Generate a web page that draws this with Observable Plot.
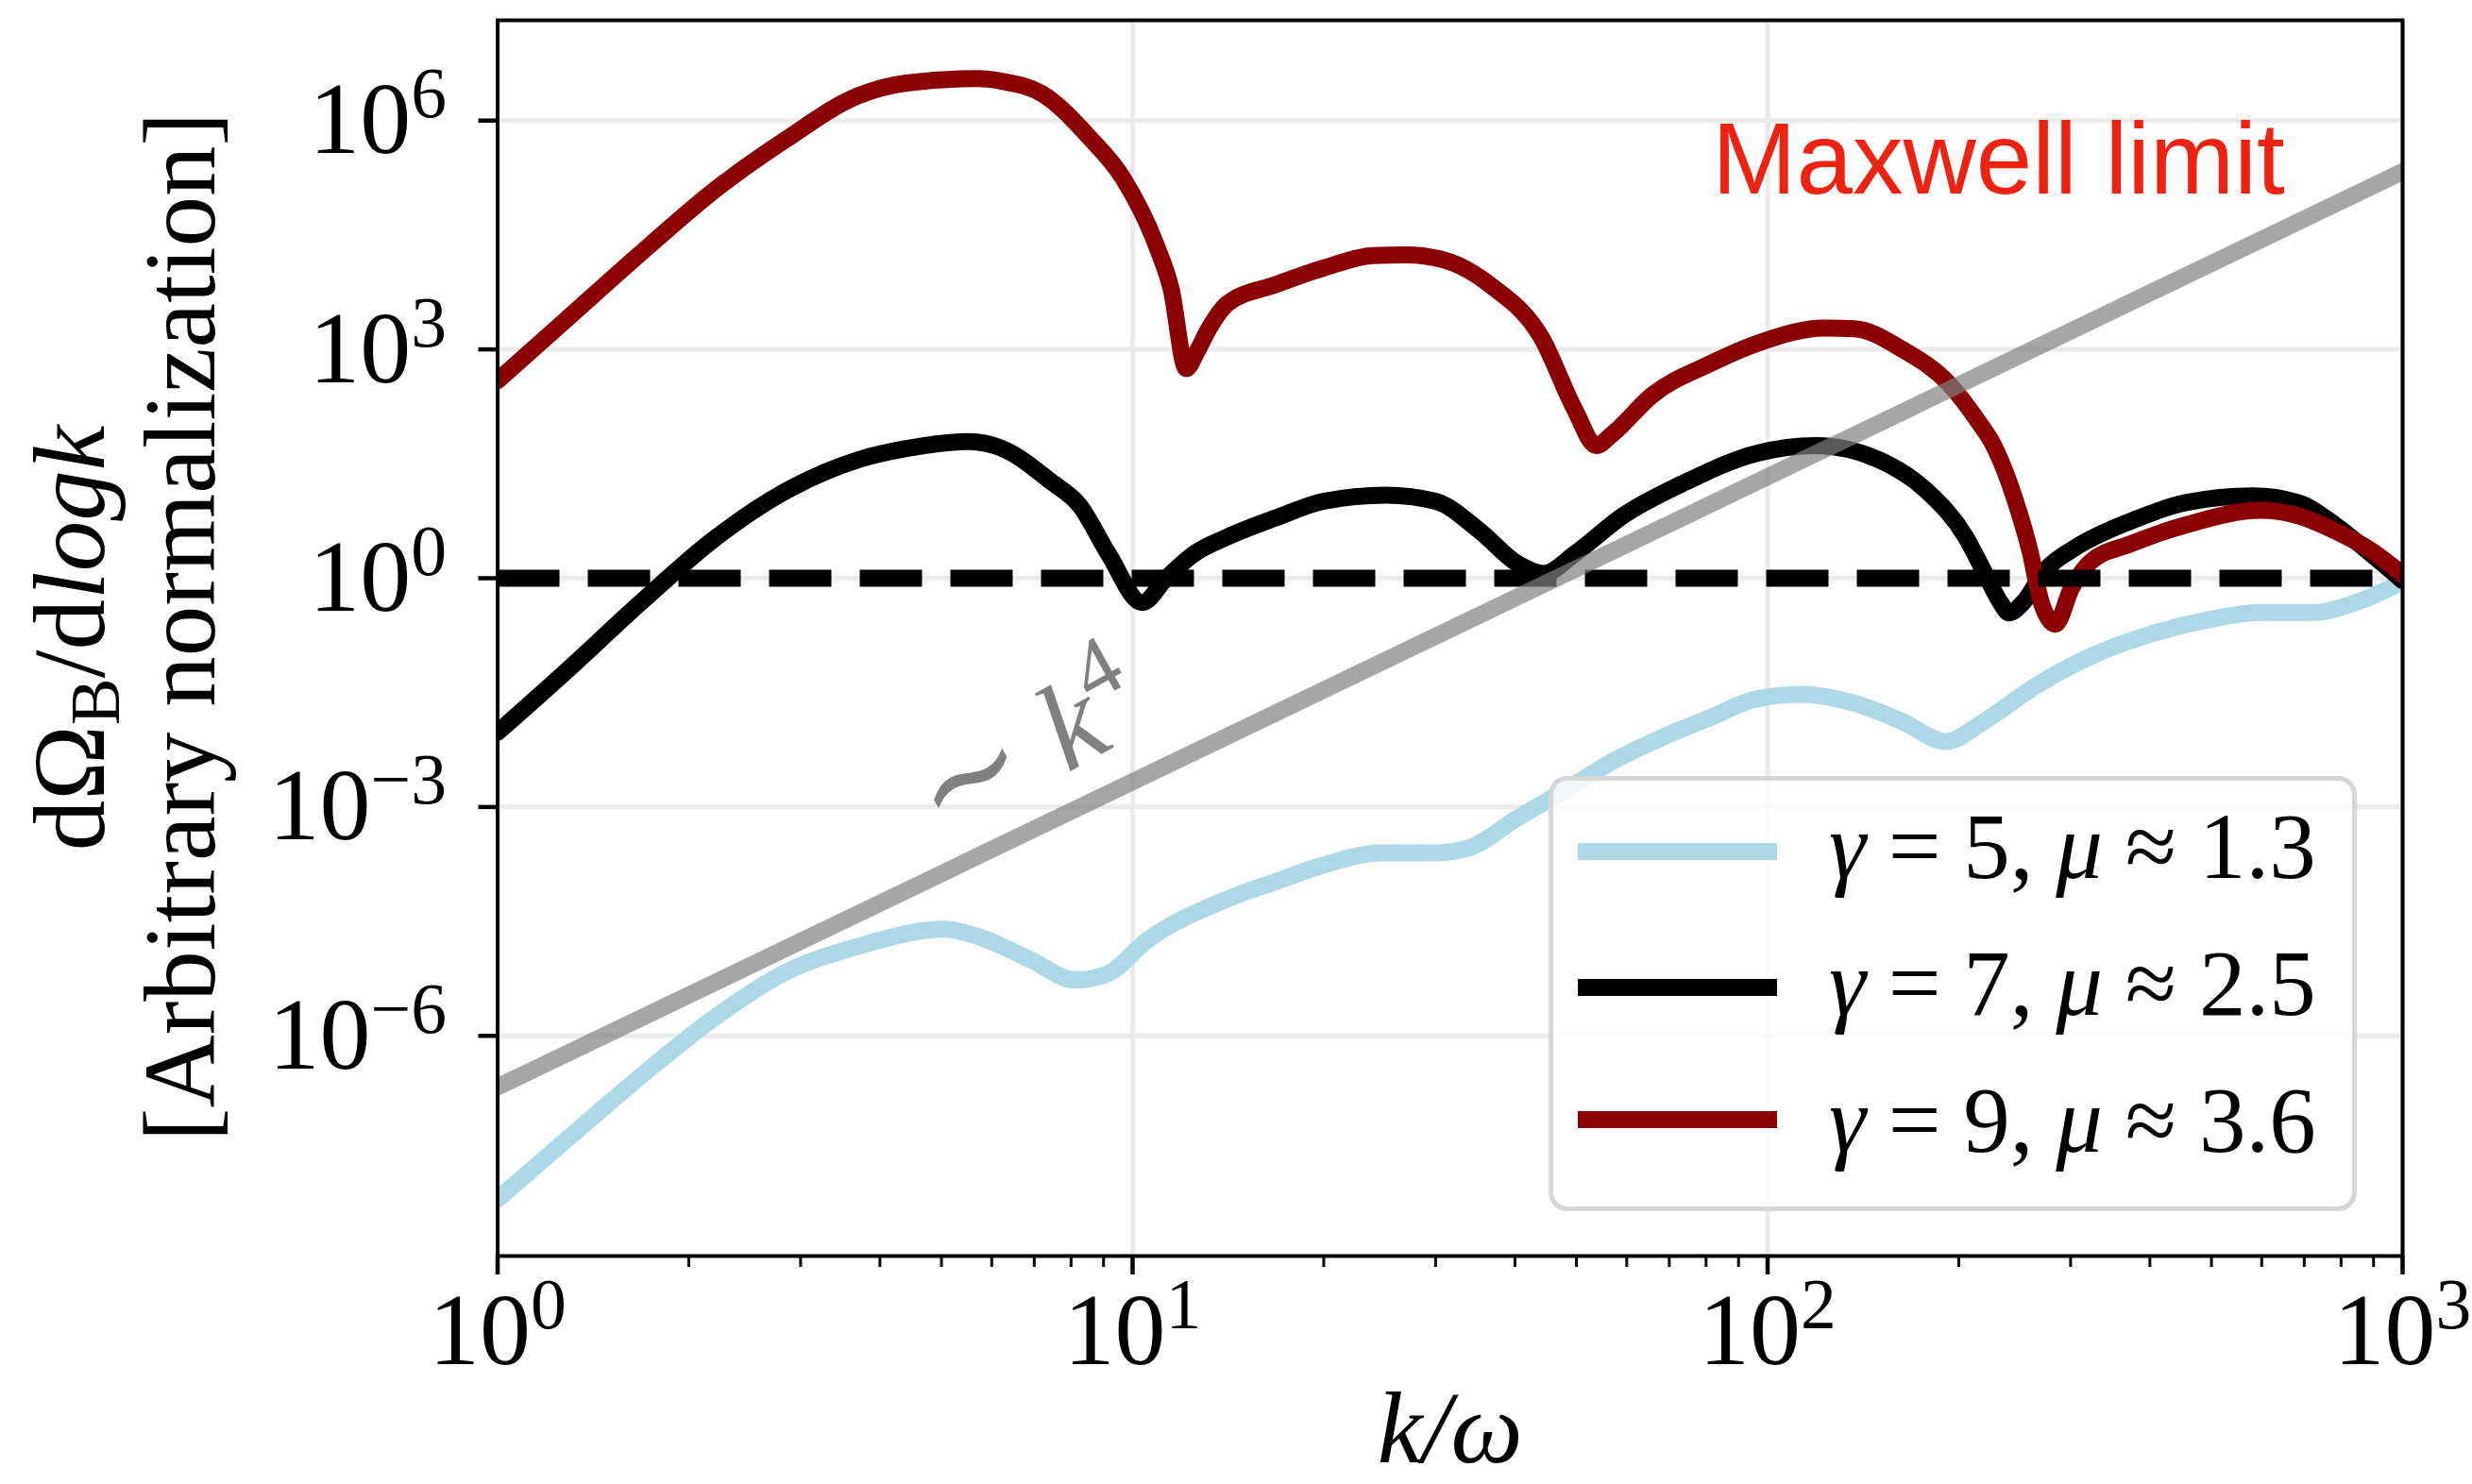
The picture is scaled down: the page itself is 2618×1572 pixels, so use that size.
<!DOCTYPE html>
<html>
<head>
<meta charset="utf-8">
<script src="https://cdn.jsdelivr.net/npm/d3@7"></script>
<script src="https://cdn.jsdelivr.net/npm/@observablehq/plot@0.6"></script>
<style>
  html, body { margin: 0; padding: 0; background: #fff; }
  #wrap { position: relative; width: 2618px; height: 1572px; overflow: hidden; background: #fff; }
  #wrap svg { display: block; }
  #legend { position: absolute; left: 1640px; top: 822px; width: 856px; height: 461px; box-sizing: border-box;
            border: 5px solid #d6d6d6; border-radius: 20px; background: rgba(255,255,255,0.8);
            font-family: 'Liberation Serif', 'Times New Roman', Times, serif; font-size: 99px; color: #000; }
  #legend .sw { position: absolute; left: 26px; width: 211px; height: 18px; }
  #legend .lt { position: absolute; left: 292px; line-height: 99px; white-space: nowrap; word-spacing: -1px; }
</style>
</head>
<body>
<div id="wrap"></div>
<script>
// ---------------- data ----------------
const xMajorTicks = [1, 10, 100, 1000];
const xMinorTicks = [2, 3, 4, 5, 6, 7, 8, 9, 20, 30, 40, 50, 60, 70, 80, 90, 200, 300, 400, 500, 600, 700, 800, 900];
const yMajorTicks = [1e-6, 1e-3, 1, 1e3, 1e6];

// gamma = 5, mu ~ 1.3 (light blue)
const kGamma5 = [1, 1.29, 1.68, 2.19, 2.84, 3.69, 5.06, 5.71, 6.93, 8.11, 9.16, 10.5, 14.1, 16.8, 20.0, 24.7, 29.9, 33.8, 40.3, 48.0, 57.1, 68.1, 81.1, 96.4, 113, 137, 163, 191, 218, 266, 326, 399, 489, 598, 723, 838, 1000];
const vGamma5 = [7.2e-9, 4.5e-8, 2.95e-7, 1.7e-6, 6.8e-6, 1.48e-5, 2.5e-5, 2.0e-5, 9.8e-6, 5.4e-6, 6.6e-6, 1.74e-5, 6.2e-5, 1.05e-4, 1.74e-4, 2.5e-4, 2.5e-4, 2.9e-4, 7.1e-4, 1.66e-3, 4.0e-3, 8.1e-3, 0.0148, 0.0263, 0.030, 0.0229, 0.0132, 7.2e-3, 0.0129, 0.040, 0.098, 0.182, 0.28, 0.355, 0.355, 0.47, 0.9];

// gamma = 7, mu ~ 2.5 (black)
const kGamma7 = [1, 1.29, 1.68, 2.19, 2.84, 3.69, 4.4, 5.52, 6.24, 7.43, 8.26, 9.16, 10.35, 11.3, 12.5, 14.1, 16.8, 20.0, 25.1, 30.0, 35.1, 40.4, 44.4, 49.7, 59.2, 74.3, 96.4, 119, 150, 178, 205, 220, 233, 240, 252, 274, 305, 373, 456, 582, 684, 783, 897, 1000];
const vGamma7 = [0.0095, 0.063, 0.479, 3.24, 13.8, 35.5, 50, 61.7, 50, 18.6, 8.9, 2.09, 0.48, 1.0, 2.09, 3.47, 6.17, 10.2, 12.3, 10.2, 4.27, 1.55, 1.15, 2.09, 6.6, 18.2, 43.7, 55, 35.5, 14, 3.5, 1.15, 0.47, 0.35, 0.47, 1.29, 2.51, 5.6, 9.8, 12.0, 9.8, 5.0, 2.0, 0.93];

// gamma = 9, mu ~ 3.6 (dark red)
const kGamma9 = [1, 1.29, 1.68, 2.19, 2.84, 3.69, 4.4, 5.7, 6.2, 7.2, 8.55, 9.66, 10.9, 11.5, 12.15, 12.6, 13.2, 14.1, 16.8, 20.0, 23.9, 27.0, 31.0, 36.9, 44.0, 49.7, 53.7, 57.1, 65.8, 81.1, 96.4, 123, 137, 163, 194, 216, 226, 245, 259, 270, 284, 301, 322, 373, 456, 598, 684, 783, 897, 1000];
const vGamma9 = [389, 2570, 1.82e4, 1.2e5, 5.6e5, 2.1e6, 3.1e6, 3.55e6, 3.3e6, 2.25e6, 6.0e5, 1.75e5, 2.3e4, 6200, 560, 900, 1900, 3980, 7080, 1.17e4, 1.7e4, 1.74e4, 1.48e4, 6600, 1450, 162, 55, 79, 251, 646, 1200, 1900, 1860, 1000, 339, 105, 59, 11, 2.24, 0.47, 0.25, 0.74, 1.62, 2.82, 5.0, 7.76, 6.6, 4.17, 2.24, 1.12];

// ~k^4 guide line (end points) and unity level
const kPowerLaw = [1, 1000];
const vPowerLaw = [2.14e-7, 2.14e5];
const unityLevel = [1];

const seriesNames = ["γ = 5, μ ≈ 1.3", "γ = 7, μ ≈ 2.5", "γ = 9, μ ≈ 3.6"];
const xLabel = "k/ω";
const yLabelLines = ["dΩB/dlogk", "[Arbitrary normalization]"];
const maxwellText = "Maxwell limit";
const powerLawText = "∼k4";

// ---------------- styling ----------------
const SERIF = "'Liberation Serif','Times New Roman',Times,serif";
const SANS = "'Liberation Sans',Arial,Helvetica,sans-serif";
const colors = ["#add8e6", "#000000", "#8b0000"];
const LW = 18;

const toRows = (ks, vs) => ks.map((k, i) => ({k, v: vs[i]}));
const seriesRows = [toRows(kGamma5, vGamma5), toRows(kGamma7, vGamma7), toRows(kGamma9, vGamma9)];
const powerRows = toRows(kPowerLaw, vPowerLaw);

const expFormat = d => "10^" + String(Math.round(Math.log10(d))).replace("-", "\u2212");

const svg = Plot.plot({
  width: 2618,
  height: 1572,
  marginLeft: 526.5,
  marginRight: 74,
  marginTop: 21,
  marginBottom: 242,
  style: {background: "#fff", fontFamily: SERIF, color: "#000", overflow: "visible"},
  x: {type: "log", domain: [1, 1000]},
  y: {type: "log", domain: [1.297e-9, 2.065e7]},
  marks: [
    Plot.gridX(xMajorTicks, {stroke: "#ebebeb", strokeOpacity: 1, strokeWidth: 5}),
    Plot.gridY(yMajorTicks, {stroke: "#ebebeb", strokeOpacity: 1, strokeWidth: 5}),
    ...seriesRows.map((rows, i) => Plot.line(rows, {
      x: "k", y: "v", stroke: colors[i], strokeWidth: LW, curve: "monotone-x",
      strokeLinejoin: "round", clip: true
    })),
    Plot.ruleY(unityLevel, {stroke: "#000", strokeWidth: LW, strokeDasharray: "66,30"}),
    Plot.line(powerRows, {x: "k", y: "v", stroke: "#808080", strokeOpacity: 0.7, strokeWidth: LW, clip: true}),
    Plot.text([maxwellText], {
      x: () => 81.8, y: () => 1.1e5, text: d => d, textAnchor: "start", lineAnchor: "bottom",
      fontFamily: SANS, fontSize: 107, fill: "#ee2211"
    }),
    Plot.text([powerLawText], {
      x: () => 5.0, y: () => 3.4e-4, text: d => d, textAnchor: "start", lineAnchor: "bottom",
      rotate: -29, fontSize: 130, fill: "#808080"
    }),
    Plot.frame({stroke: "#000", strokeWidth: 4}),
    Plot.axisX(xMajorTicks, {tickSize: 20, tickPadding: 18, strokeWidth: 4.5, fontSize: 108, tickFormat: expFormat, label: null}),
    Plot.axisX(xMinorTicks, {tickSize: 12, strokeWidth: 3, tickFormat: () => "", label: null}),
    Plot.axisY(yMajorTicks, {tickSize: 20, tickPadding: 34, strokeWidth: 4.5, fontSize: 108, tickFormat: expFormat, label: null}),
    Plot.text([xLabel], {
      frameAnchor: "bottom", text: d => d, dy: 218, textAnchor: "middle", lineAnchor: "bottom",
      fontSize: 108, fontStyle: "italic"
    }),
    Plot.text([yLabelLines[0]], {
      frameAnchor: "left", text: d => d, dx: -417.5, dy: 0, rotate: -90,
      textAnchor: "middle", lineAnchor: "bottom", fontSize: 107
    }),
    Plot.text([yLabelLines[1]], {
      frameAnchor: "left", text: d => d, dx: -300.5, dy: -12, rotate: -90,
      textAnchor: "middle", lineAnchor: "bottom", fontSize: 107
    })
  ]
});

const wrap = document.getElementById("wrap");
wrap.appendChild(svg);

// ---------------- rich text (superscripts, subscripts, italics) ----------------
const NS = "http://www.w3.org/2000/svg";
function rich(el, parts) {
  el.textContent = "";
  for (const p of parts) {
    const ts = document.createElementNS(NS, "tspan");
    ts.textContent = p.t;
    if (p.italic) ts.setAttribute("font-style", "italic");
    if (p.size) ts.setAttribute("font-size", p.size);
    if (p.dy) ts.setAttribute("dy", p.dy);
    if (p.family) ts.setAttribute("font-family", p.family);
    el.appendChild(ts);
  }
}
svg.querySelectorAll("text").forEach(el => {
  const s = el.textContent;
  const m = /^10\^(.+)$/.exec(s);
  if (m) {
    rich(el, [{t: "10"}, {t: m[1], size: "0.7em", dy: -38}]);
  } else if (s === powerLawText) {
    rich(el, [{t: "∼", family: "'DejaVu Serif','DejaVu Sans',serif", size: "1.1em"},
              {t: " "}, {t: "k", italic: true}, {t: "4", size: "0.7em", dy: -52}]);
  } else if (s === yLabelLines[0]) {
    rich(el, [{t: "dΩ"}, {t: "B", size: "0.7em", dy: 16}, {t: "/d", dy: -16}, {t: "logk", italic: true}]);
  }
});

// ---------------- legend ----------------
const legend = document.createElement("div");
legend.id = "legend";
const swatchTops = [66, 210, 350];
const textTops = [20, 165, 310];
seriesNames.forEach((name, i) => {
  const sw = document.createElement("div");
  sw.className = "sw";
  sw.style.top = swatchTops[i] + "px";
  sw.style.background = colors[i];
  legend.appendChild(sw);
  const lt = document.createElement("div");
  lt.className = "lt";
  lt.style.top = textTops[i] + "px";
  lt.innerHTML = name.replace(/([γμ])/g, "<i>$1</i>");
  legend.appendChild(lt);
});
wrap.appendChild(legend);
</script>
</body>
</html>
